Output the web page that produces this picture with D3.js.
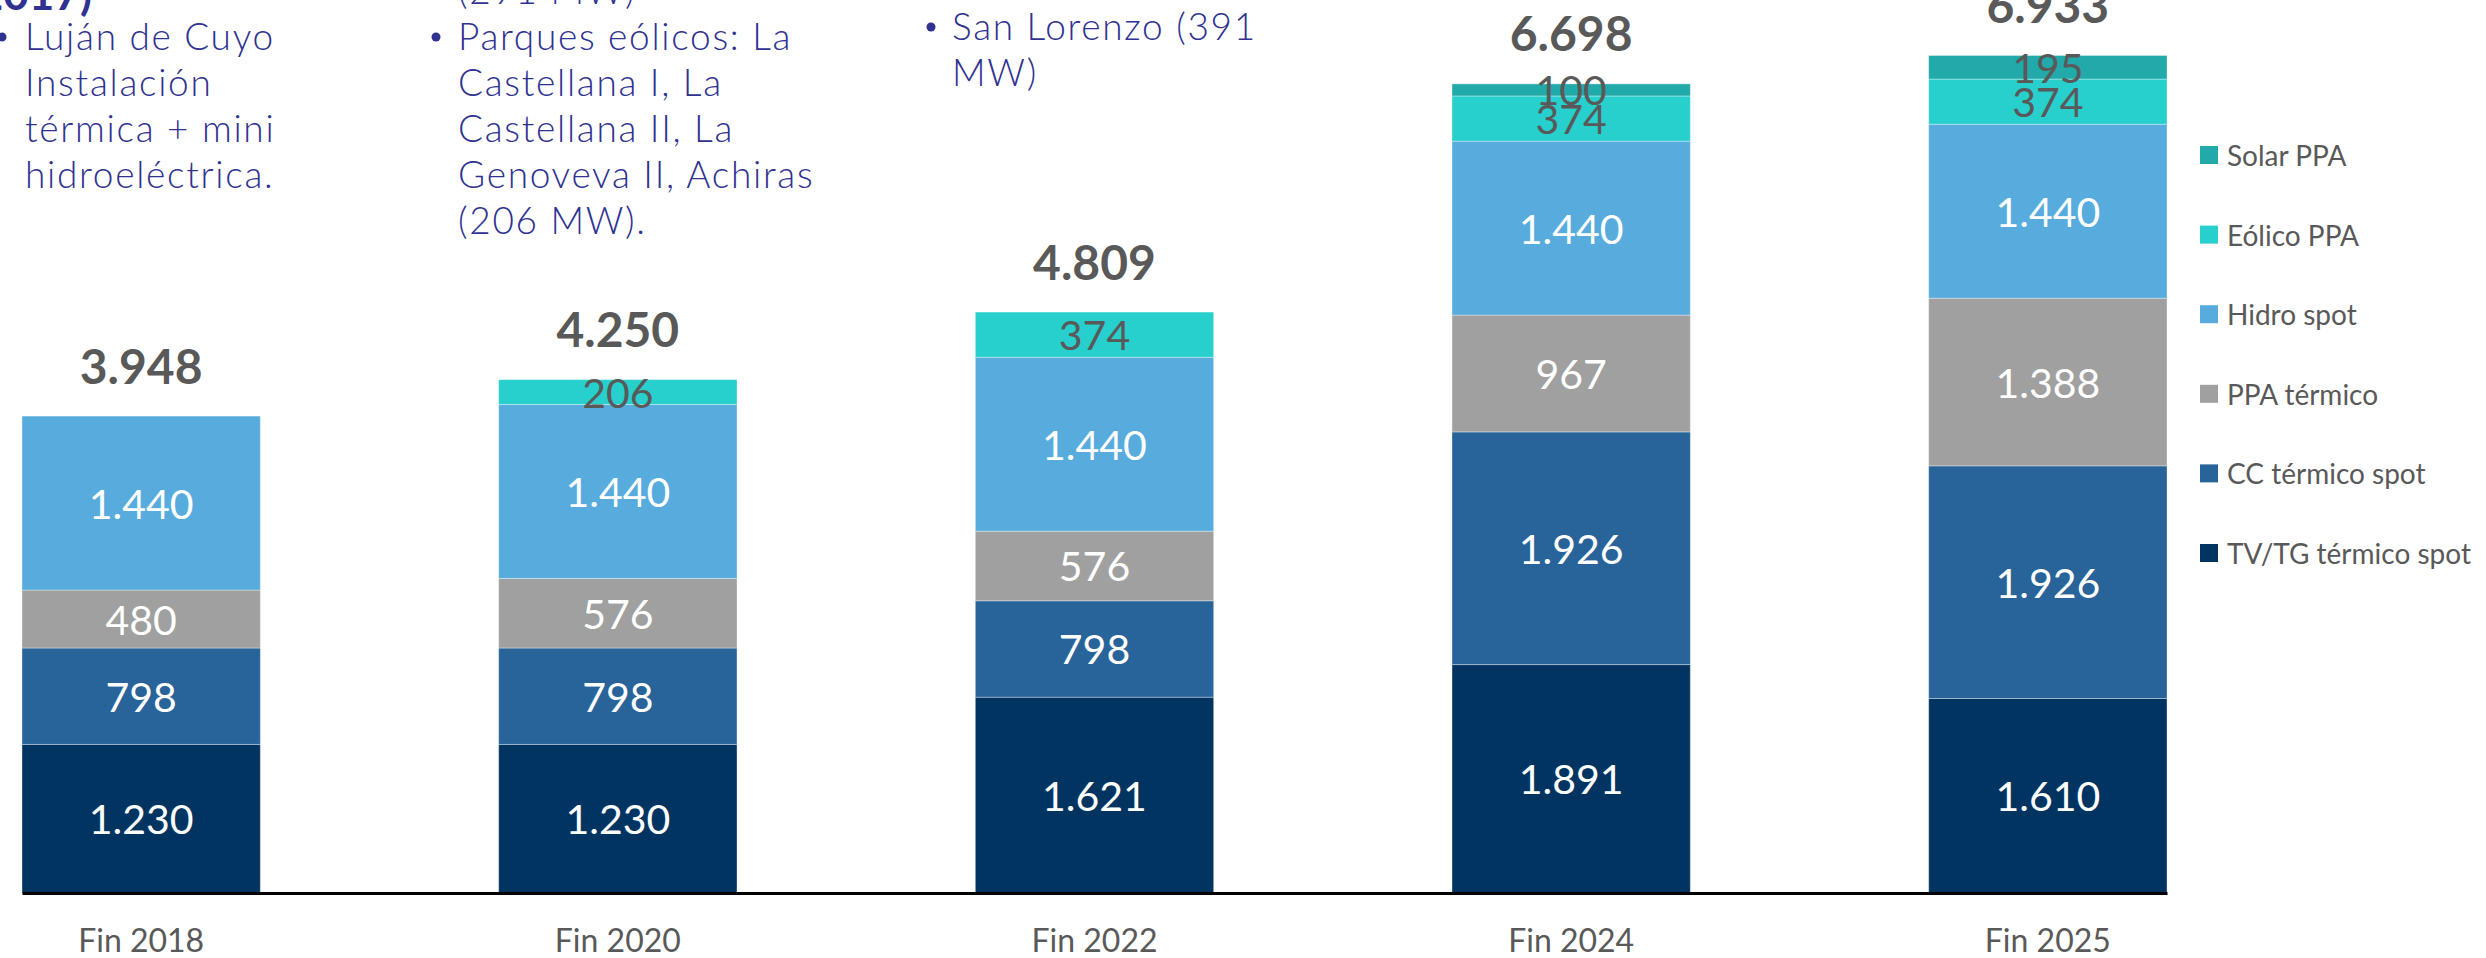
<!DOCTYPE html>
<html>
<head>
<meta charset="utf-8">
<script src="https://cdn.jsdelivr.net/npm/d3@7"></script>
<style>
  html, body { margin: 0; padding: 0; background: #fff; overflow: hidden; }
  svg { display: block; }
</style>
</head>
<body>
<svg width="2486" height="958"></svg>
<script>
const width = 2486, height = 958;
const marginLeft = 22;
const plotRight = 2167;
const baseline = 893;
const svg = d3.select("svg");

// data (MW)
const categories = ["Fin 2018", "Fin 2020", "Fin 2022", "Fin 2024", "Fin 2025"];
const tvtgSpot = [1230, 1230, 1621, 1891, 1610];
const ccSpot = [798, 798, 798, 1926, 1926];
const ppaTermico = [480, 576, 576, 967, 1388];
const hidroSpot = [1440, 1440, 1440, 1440, 1440];
const eolicoPPA = [0, 206, 374, 374, 374];
const solarPPA = [0, 0, 0, 100, 195];

const seriesKeys = ["tvtg", "cc", "ppa", "hidro", "eolico", "solar"];
const seriesNames = ["TV/TG térmico spot", "CC térmico spot", "PPA térmico", "Hidro spot", "Eólico PPA", "Solar PPA"];
const seriesColors = ["#023462", "#286399", "#a0a0a0", "#58acdd", "#27cfcd", "#21aaa9"];
const labelColors = ["#ffffff", "#ffffff", "#ffffff", "#ffffff", "#595959", "#595959"];

// annotation texts above the bars
const note1 = ["Luján de Cuyo", "Instalación", "térmica + mini", "hidroeléctrica."];
const note2 = ["Parques eólicos: La", "Castellana I, La", "Castellana II, La", "Genoveva II, Achiras", "(206 MW)."];
const note3 = ["San Lorenzo (391", "MW)"];

const rows = categories.map((c, i) => ({
    cat: c,
    tvtg: tvtgSpot[i],
    cc: ccSpot[i],
    ppa: ppaTermico[i],
    hidro: hidroSpot[i],
    eolico: eolicoPPA[i],
    solar: solarPPA[i]
}));

const fmt = d3.formatLocale({ decimal: ",", thousands: ".", grouping: [3], currency: ["", ""] }).format(",d");

// Scales
const xScale = d3.scaleBand()
    .domain(categories)
    .range([marginLeft, plotRight])
    .paddingInner(0.5)
    .paddingOuter(0);

const yScale = d3.scaleLinear()
    .domain([0, 7000])
    .range([baseline, baseline - 7000 * 0.1208]);

const stacked = d3.stack().keys(seriesKeys)(rows);

// Bars
const layers = svg.append("g")
    .selectAll("g")
    .data(stacked)
    .join("g")
    .attr("fill", (d, i) => seriesColors[i]);

layers.selectAll("rect")
    .data(d => d.filter(s => s[1] - s[0] > 0))
    .join("rect")
    .attr("x", d => xScale(d.data.cat))
    .attr("width", xScale.bandwidth())
    .attr("y", d => yScale(d[1]))
    .attr("height", d => yScale(d[0]) - yScale(d[1]))
    .attr("stroke", "#ffffff")
    .attr("stroke-opacity", 0.35)
    .attr("stroke-width", 1);

// Segment labels
stacked.forEach((layer, i) => {
    svg.append("g")
        .selectAll("text")
        .data(layer.filter(s => s[1] - s[0] > 0))
        .join("text")
        .attr("x", d => xScale(d.data.cat) + xScale.bandwidth() / 2)
        .attr("y", d => (yScale(d[0]) + yScale(d[1])) / 2)
        .attr("text-anchor", "middle")
        .attr("dominant-baseline", "central")
        .style("font-family", "Lato, 'Open Sans', sans-serif")
        .style("font-size", "41px")
        .style("fill", labelColors[i])
        .text(d => fmt(d[1] - d[0]));
});

// Totals on top
svg.append("g")
    .selectAll("text")
    .data(rows)
    .join("text")
    .attr("x", d => xScale(d.cat) + xScale.bandwidth() / 2)
    .attr("y", d => yScale(d3.sum(seriesKeys, k => d[k])) - 51)
    .attr("text-anchor", "middle")
    .attr("dominant-baseline", "central")
    .style("font-family", "Lato, 'Open Sans', sans-serif")
    .style("font-weight", "700")
    .style("font-size", "48px")
    .style("fill", "#595959")
    .text(d => fmt(d3.sum(seriesKeys, k => d[k])));

// X axis
const xAxis = svg.append("g")
    .attr("transform", `translate(0, ${baseline})`)
    .call(d3.axisBottom(xScale).tickSize(0).tickSizeOuter(0));

xAxis.select(".domain")
    .attr("stroke", "#000")
    .attr("stroke-width", 3);

xAxis.selectAll("text")
    .attr("y", 59)
    .attr("dy", 0)
    .style("font-family", "Lato, 'Open Sans', sans-serif")
    .style("font-size", "32px")
    .style("fill", "#595959");

// Legend (top to bottom: last series first)
const legend = svg.append("g")
    .attr("transform", "translate(2200, 155)");

const legendOrder = d3.range(seriesKeys.length).reverse();
legendOrder.forEach((si, row) => {
    legend.append("rect")
        .attr("x", 0)
        .attr("y", row * 79.6 - 9)
        .attr("width", 18)
        .attr("height", 18)
        .attr("fill", seriesColors[si]);

    legend.append("text")
        .attr("x", 27)
        .attr("y", row * 79.6)
        .attr("dominant-baseline", "central")
        .style("font-family", "Lato, 'Open Sans', sans-serif")
        .style("font-size", "28px")
        .style("fill", "#595959")
        .text(seriesNames[si]);
});

// Annotations (partly cut by the top edge, as in the source slide)
const noteColor = "#2f3290";
const noteFont = "Lato, 'Open Sans', sans-serif";

function drawNote(lines, x, y0, bulletX) {
    const g = svg.append("g");
    g.append("circle")
        .attr("cx", bulletX)
        .attr("cy", y0 - 13)
        .attr("r", 4.5)
        .attr("fill", noteColor);
    lines.forEach((t, i) => {
        g.append("text")
            .attr("x", x)
            .attr("y", y0 + i * 46)
            .style("font-family", noteFont)
            .style("font-weight", "300")
            .style("font-size", "37px")
            .style("letter-spacing", "1.7px")
            .style("fill", noteColor)
            .text(t);
    });
}

drawNote(note1, 25, 50, 2);
drawNote(note2, 458, 50, 436);
drawNote(note3, 952, 40, 931);

// headings above the notes, mostly off the canvas
svg.append("text")
    .attr("x", 92)
    .attr("y", 10)
    .attr("text-anchor", "end")
    .style("font-family", noteFont)
    .style("font-weight", "700")
    .style("font-size", "44px")
    .style("fill", noteColor)
    .text("(2017)");

svg.append("text")
    .attr("x", 458)
    .attr("y", 4)
    .style("font-family", noteFont)
    .style("font-weight", "300")
    .style("font-size", "37px")
    .style("letter-spacing", "1.7px")
    .style("fill", noteColor)
    .text("(291 MW)");

svg.append("text")
    .attr("x", 898)
    .attr("y", -6)
    .style("font-family", noteFont)
    .style("font-weight", "300")
    .style("font-size", "37px")
    .style("fill", noteColor)
    .text("(2019 MW)");
</script>
</body>
</html>
